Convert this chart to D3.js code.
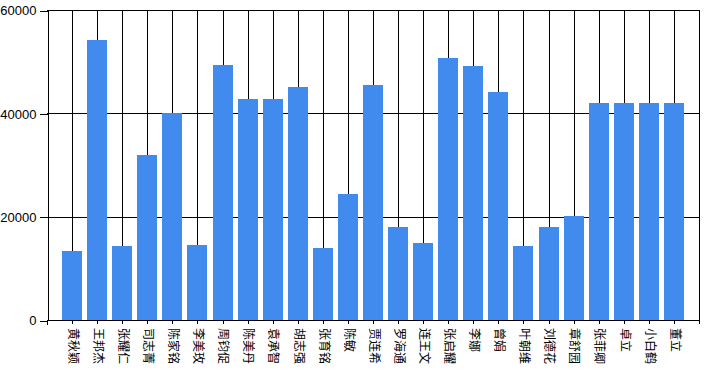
<!DOCTYPE html>
<html>
<head>
<meta charset="utf-8">
<title>bar chart</title>
<script src="https://cdn.jsdelivr.net/npm/d3@7"></script>
<style>
  body { margin: 0; background: #fff; }
  svg { display: block; font-family: "Liberation Sans", Arial, sans-serif; }
  .names text { font-family: "Noto Sans CJK SC", sans-serif; font-size: 12px; }
</style>
</head>
<body>
<div id="chart"></div>
<script>
const names = [
  "黄秋颖", "王邦杰", "张耀仁", "司志菁", "陈家铭", "李美玫", "周钧促", "陈美丹",
  "袁承智", "胡志强", "张育铭", "陈敏", "贾连希", "罗海通", "连王文", "张启耀",
  "李娜", "曾娟", "叶朝维", "刘德花", "章舒园", "张菲卿", "卓立", "小白鹤", "董立"
]
const salaries = [
  13400, 54200, 14300, 32000, 40100, 14500, 49400, 42800,
  42800, 45100, 13900, 24400, 45500, 18000, 14900, 50700,
  49200, 44100, 14300, 18000, 20100, 42000, 42000, 42000, 42000
]
const yTicks = [0, 20000, 40000, 60000]

const width = 722, height = 373
const mLeft = 47, mRight = 699, mTop = 10, mBottom = 320

const svg = d3.select("#chart").append("svg")
  .attr("width", width)
  .attr("height", height)

const x = d3.scalePoint()
  .domain(names)
  .range([mLeft, mRight])
  .padding(1)

const y = d3.scaleLinear()
  .domain([0, 60000])
  .range([mBottom, mTop])

const g = svg.append("g").attr("shape-rendering", "crispEdges")

// grid
g.selectAll(".hgrid").data(yTicks).join("line")
  .attr("x1", mLeft).attr("x2", mRight)
  .attr("y1", d => Math.round(y(d)) + 0.5).attr("y2", d => Math.round(y(d)) + 0.5)
  .attr("stroke", "#000")

g.selectAll(".vgrid").data(names).join("line")
  .attr("x1", d => Math.round(x(d)) + 0.5).attr("x2", d => Math.round(x(d)) + 0.5)
  .attr("y1", mTop).attr("y2", mBottom + 4)
  .attr("stroke", "#000")

// right border
g.append("line")
  .attr("x1", mRight + 0.5).attr("x2", mRight + 0.5)
  .attr("y1", mTop).attr("y2", mBottom + 4)
  .attr("stroke", "#000")

// bars
const barW = 20
g.selectAll(".bar").data(names).join("rect")
  .attr("x", d => Math.round(x(d)) - barW / 2)
  .attr("width", barW)
  .attr("y", (d, i) => Math.round(y(salaries[i])))
  .attr("height", (d, i) => mBottom - Math.round(y(salaries[i])))
  .attr("fill", "#418aee")

// y axis
const yAxis = svg.append("g")
  .attr("transform", `translate(${mLeft + 0.5},0.5)`)
  .attr("shape-rendering", "crispEdges")
  .call(d3.axisLeft(y).tickValues(yTicks).tickFormat(d3.format("d")).tickSize(8).tickPadding(3).tickSizeOuter(0))
yAxis.select(".domain").attr("stroke", "#000")
yAxis.selectAll("text").attr("font-size", 13).attr("fill", "#000")
  .attr("font-family", "'Liberation Sans', Arial, sans-serif")

// x axis line
const xAxis = svg.append("g")
  .attr("transform", `translate(0.5,${mBottom + 0.5})`)
  .attr("shape-rendering", "crispEdges")
xAxis.append("line")
  .attr("x1", mLeft - 0.5).attr("x2", mRight)
  .attr("stroke", "#000")
xAxis.append("line")
  .attr("x1", mLeft - 0.5).attr("x2", mLeft - 0.5)
  .attr("y1", 0).attr("y2", 4)
  .attr("stroke", "#000")

// rotated name labels
svg.append("g").attr("class", "names")
  .selectAll("text").data(names).join("text")
  .attr("transform", d => `translate(${x(d) + 1},${mBottom + 8}) rotate(90)`)
  .attr("dy", "0.35em")
  .attr("text-anchor", "start")
  .attr("fill", "#000")
  .text(d => d)
</script>
</body>
</html>
